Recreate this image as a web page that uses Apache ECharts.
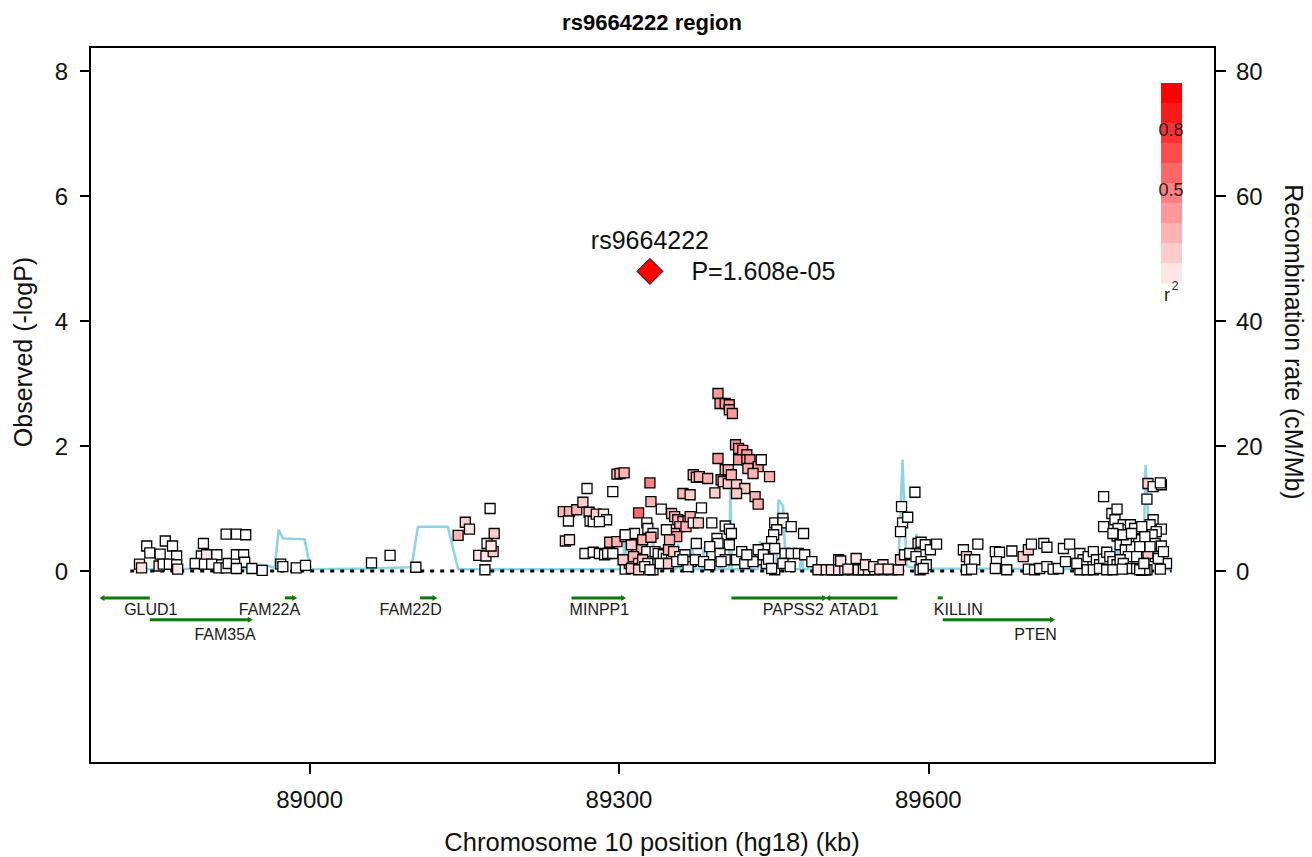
<!DOCTYPE html>
<html>
<head>
<meta charset="utf-8">
<title>rs9664222 region</title>
<script src="https://cdn.jsdelivr.net/npm/echarts@6.0.0/dist/echarts.min.js"></script>
<style>
  html, body { margin: 0; padding: 0; background: #fff; }
  #chart { width: 1312px; height: 857px; }
</style>
</head>
<body>
<div id="chart"></div>
<script>
// ---- data (positions in kb, chr10 hg18) ----
const xTicks = [89000, 89300, 89600];
const yTicks = [0, 2, 4, 6, 8];
const recTicks = [0, 20, 40, 60, 80];

const indexSnp = 'rs9664222';
const indexPos = 89330;
const indexP = 1.608e-5;

// SNPs left of the signal
const posA = [
  88835, 88837, 88842, 88845, 88860, 88867, 88855, 88871, 88854, 88858,
  88864, 88871, 88872, 88897, 88895, 88900, 88910, 88889, 88898, 88905,
  88912, 88919, 88921, 88929, 88936, 88929, 88937, 88929, 88919, 88929,
  88938, 88944, 88954, 88972, 88974, 88987, 88996, 89060, 89078, 89103,
  89144, 89151, 89155, 89164, 89171, 89172, 89170, 89175, 89179, 89178,
  89176
];
const logpA = [
  0.11, 0.05, 0.40, 0.29, 0.48, 0.40, 0.27, 0.24, 0.08, 0.11,
  0.11, 0.10, 0.03, 0.44, 0.24, 0.26, 0.26, 0.12, 0.11, 0.11,
  0.05, 0.05, 0.12, 0.26, 0.26, 0.11, 0.14, 0.04, 0.59, 0.59,
  0.58, 0.04, 0.01, 0.11, 0.07, 0.05, 0.09, 0.13, 0.25, 0.06,
  0.57, 0.78, 0.67, 0.25, 0.24, 0.44, 0.02, 1.00, 0.60, 0.31,
  0.40
];
const r2A = [
  0.05, 0.05, 0, 0, 0, 0, 0, 0, 0.05, 0,
  0, 0, 0.05, 0, 0, 0.05, 0, 0, 0, 0,
  0, 0, 0, 0, 0, 0, 0, 0, 0, 0,
  0, 0, 0, 0.05, 0, 0, 0, 0, 0, 0,
  0.2, 0.1, 0.05, 0.05, 0.05, 0, 0, 0, 0.1, 0.1,
  0.05
];

// SNPs around the peak (MINPP1 .. PAPSS2)
const posB = [
  89246, 89252, 89259, 89265, 89251, 89248, 89252, 89269, 89294, 89298,
  89301, 89305, 89271, 89272, 89275, 89278, 89285, 89288, 89281, 89267,
  89275, 89281, 89286, 89289, 89294, 89291, 89298, 89306, 89307, 89306,
  89310, 89315, 89319, 89317, 89322, 89323, 89314, 89319, 89327, 89330,
  89331, 89328, 89333, 89331, 89327, 89323, 89328, 89333, 89341, 89335,
  89338, 89343, 89346, 89351, 89351, 89354, 89357, 89362, 89367, 89359,
  89365, 89354, 89356, 89346, 89349, 89348, 89353, 89359, 89364, 89369,
  89372, 89377, 89375, 89370, 89367, 89380, 89362, 89369, 89372, 89375,
  89378, 89386, 89390, 89395, 89396, 89388, 89390, 89396, 89393, 89399,
  89403, 89406, 89401, 89406, 89409, 89403, 89407, 89409, 89407, 89398,
  89403, 89396, 89398, 89403, 89407, 89407, 89410, 89413, 89416, 89420,
  89424, 89416, 89424, 89427, 89435, 89438, 89425, 89430, 89414, 89422,
  89414, 89432, 89435, 89446, 89451, 89459, 89459, 89467, 89453, 89450,
  89448, 89479, 89443, 89435, 89451, 89437, 89443, 89451, 89461, 89467,
  89474, 89480, 89487, 89459, 89466, 89493, 89501, 89511, 89513, 89304,
  89312, 89319, 89325, 89330, 89340, 89348, 89356, 89362, 89374, 89382,
  89388, 89399, 89414, 89419, 89422, 89430, 89424, 89440, 89445, 89448,
  89312, 89306
];
const logpB = [
  0.95, 0.95, 0.98, 1.10, 0.80, 0.48, 0.50, 1.32, 1.27, 1.55,
  1.56, 1.57, 0.94, 0.80, 0.79, 0.91, 0.91, 0.82, 0.79, 0.28,
  0.30, 0.28, 0.26, 0.28, 0.28, 0.46, 0.47, 0.55, 0.18, 0.03,
  0.12, 0.60, 0.93, 0.34, 0.36, 0.50, 0.23, 0.12, 0.77, 1.41,
  1.11, 0.68, 0.60, 0.54, 0.31, 0.18, 0.12, 0.02, 0.99, 0.31,
  0.28, 0.26, 0.20, 0.18, 0.92, 0.87, 0.82, 0.79, 0.80, 0.71,
  0.71, 0.60, 0.55, 0.66, 0.50, 0.34, 0.31, 0.23, 0.26, 0.87,
  0.77, 0.77, 0.44, 0.15, 0.07, 1.01, 1.24, 1.22, 1.54, 1.50,
  1.51, 1.48, 0.77, 0.52, 0.44, 0.39, 0.23, 1.80, 1.25, 1.46,
  1.62, 1.62, 1.43, 1.40, 1.54, 0.72, 0.67, 0.60, 0.42, 0.28,
  0.18, 2.84, 2.68, 2.68, 2.66, 2.58, 2.52, 2.02, 1.96, 1.93,
  1.86, 1.78, 1.78, 1.78, 1.67, 1.78, 1.64, 1.56, 1.38, 1.32,
  1.24, 1.19, 1.07, 1.51, 0.77, 0.84, 0.77, 0.71, 0.66, 0.58,
  0.47, 0.60, 0.36, 0.34, 0.36, 0.18, 0.12, 0.02, 0.28, 0.28,
  0.28, 0.26, 0.15, 0.12, 0.07, 0.02, 0.02, 0.02, 0.18, 0.18,
  0.04, 0.02, 0.07, 0.02, 0.12, 0.12, 0.15, 0.18, 0.18, 0.15,
  0.10, 0.15, 0.18, 0.31, 0.12, 0.15, 0.26, 0.26, 0.19, 0.04,
  0.42, 0.58
];
const r2B = [
  0.2, 0.2, 0.2, 0.15, 0, 0.15, 0.05, 0, 0, 0.2,
  0.2, 0.2, 0.15, 0, 0, 0.15, 0.05, 0, 0, 0,
  0, 0, 0, 0, 0, 0.2, 0.2, 0, 0.2, 0,
  0.2, 0, 0.55, 0.25, 0.25, 0.2, 0.2, 0.15, 0, 0.4,
  0.25, 0, 0, 0.25, 0, 0.1, 0, 0, 0, 0,
  0, 0, 0, 0, 0.2, 0.25, 0.25, 0.25, 0.2, 0.2,
  0.2, 0.2, 0.35, 0, 0.2, 0.2, 0.15, 0, 0, 0.2,
  0, 0.15, 0, 0, 0, 0, 0.2, 0.1, 0.2, 0.2,
  0.2, 0.2, 0, 0, 0, 0, 0, 0.3, 0.1, 0.2,
  0.2, 0.2, 0.15, 0.15, 0.2, 0, 0, 0, 0, 0,
  0, 0.35, 0.35, 0.35, 0.35, 0.35, 0.35, 0.3, 0.3, 0.3,
  0.3, 0.3, 0.3, 0.3, 0.3, 0, 0.25, 0.25, 0.15, 0.15,
  0.15, 0.25, 0.25, 0.2, 0, 0, 0, 0, 0, 0,
  0, 0, 0, 0, 0, 0, 0, 0, 0, 0,
  0, 0, 0, 0, 0, 0.05, 0.05, 0.05, 0.05, 0.1,
  0.1, 0.1, 0, 0, 0, 0.1, 0, 0, 0, 0,
  0, 0, 0, 0, 0, 0, 0, 0, 0, 0,
  0.15, 0
];

// SNPs right of the signal (ATAD1 .. PTEN and beyond)
const posC = [
  89506, 89513, 89519, 89526, 89532, 89537, 89542, 89548, 89556, 89564,
  89571, 89515, 89530, 89539, 89547, 89556, 89522, 89553, 89561, 89574,
  89575, 89573, 89580, 89587, 89573, 89577, 89582, 89590, 89593, 89597,
  89602, 89608, 89588, 89593, 89598, 89592, 89595, 89634, 89637, 89640,
  89645, 89637, 89642, 89648, 89665, 89669, 89666, 89665, 89676, 89681,
  89692, 89697, 89700, 89712, 89715, 89697, 89703, 89708, 89715, 89721,
  89726, 89733, 89731, 89737, 89770, 89770, 89778, 89783, 89781, 89783,
  89789, 89792, 89796, 89800, 89799, 89804, 89786, 89791, 89797, 89794,
  89747, 89750, 89755, 89760, 89763, 89766, 89770, 89773, 89776, 89779,
  89783, 89786, 89789, 89796, 89802, 89807, 89812, 89747, 89754, 89760,
  89766, 89773, 89779, 89788, 89744, 89813, 89818, 89826, 89825, 89812,
  89818, 89815, 89826, 89821, 89817, 89820, 89810, 89826, 89820, 89831,
  89825, 89813, 89810, 89805, 89792, 89805, 89807, 89784, 89779, 89789,
  89797, 89802, 89809, 89815, 89823, 89828
];
const logpC = [
  0.02, 0.02, 0.02, 0.02, 0.02, 0.02, 0.02, 0.02, 0.02, 0.02,
  0.02, 0.16, 0.20, 0.10, 0.07, 0.10, 0.03, 0.03, 0.03, 1.03,
  0.77, 0.63, 0.86, 1.26, 0.18, 0.26, 0.28, 0.44, 0.46, 0.42,
  0.34, 0.43, 0.23, 0.15, 0.10, 0.02, 0.04, 0.34, 0.23, 0.18,
  0.18, 0.02, 0.03, 0.43, 0.31, 0.30, 0.15, 0.04, 0.02, 0.32,
  0.23, 0.34, 0.43, 0.44, 0.38, 0.03, 0.02, 0.04, 0.07, 0.03,
  0.04, 0.15, 0.36, 0.43, 1.19, 0.71, 0.92, 0.99, 0.82, 0.56,
  0.74, 0.66, 0.74, 0.68, 0.50, 0.50, 0.42, 0.34, 0.39, 0.23,
  0.28, 0.18, 0.23, 0.31, 0.18, 0.10, 0.19, 0.30, 0.23, 0.15,
  0.10, 0.18, 0.12, 0.04, 0.04, 0.01, 0.02, 0.02, 0.02, 0.02,
  0.04, 0.02, 0.02, 0.03, 0.12, 1.40, 1.35, 1.38, 1.41, 1.15,
  0.82, 0.74, 0.67, 0.63, 0.58, 0.44, 0.55, 0.40, 0.23, 0.12,
  0.03, 0.28, 0.02, 0.02, 0.50, 0.39, 0.71, 0.68, 0.60, 0.58,
  0.60, 0.23, 0.12, 0.39, 0.20, 0.31
];
const r2C = [
  0.05, 0.05, 0.05, 0.05, 0.05, 0.05, 0.05, 0.05, 0.05, 0.05,
  0.05, 0.05, 0.05, 0.05, 0.05, 0.05, 0.05, 0.05, 0.05, 0,
  0, 0, 0, 0, 0.1, 0, 0, 0.1, 0, 0,
  0, 0, 0, 0, 0, 0, 0, 0, 0.1, 0,
  0, 0, 0, 0, 0, 0, 0, 0, 0, 0,
  0.15, 0.1, 0, 0, 0, 0, 0, 0, 0, 0,
  0, 0, 0, 0, 0, 0, 0, 0, 0, 0,
  0, 0, 0, 0, 0, 0, 0, 0, 0, 0,
  0, 0, 0, 0, 0, 0, 0, 0, 0, 0,
  0, 0, 0, 0, 0, 0, 0, 0, 0, 0,
  0, 0, 0, 0, 0, 0.1, 0, 0, 0, 0,
  0, 0, 0, 0, 0, 0, 0, 0, 0, 0,
  0, 0.1, 0, 0, 0, 0, 0, 0, 0, 0,
  0, 0, 0, 0, 0, 0
];

// recombination rate (cM/Mb)
const recombPos = [
  88835, 88942, 88952, 88960, 88966, 88970, 88974, 88995, 89001, 89061,
  89097, 89099, 89105, 89134, 89144, 89160, 89304, 89305.6, 89307, 89321.7,
  89323.4, 89325, 89331.5, 89333, 89335, 89355.7, 89357.3, 89359.3, 89369.6, 89370.9,
  89372.5, 89380.6, 89381.9, 89383.2, 89397.1, 89398.4, 89399.7, 89406.8, 89408.1, 89409.7,
  89422, 89423, 89424, 89434.9, 89436.6, 89438.2, 89452.7, 89454.6, 89459.1, 89461.8,
  89475.4, 89477, 89478.6, 89483.4, 89485, 89486.7, 89500, 89570.7, 89575, 89578.9,
  89586.9, 89588.6, 89591.1, 89779.3, 89782.6, 89784.5, 89808.4, 89810.7, 89813.3, 89818.1,
  89826.2, 89830.4, 89835
];
const recombRate = [
  0.3, 0.4, 1.0, 0.8, 0.5, 6.6, 5.2, 5.1, 0.3, 0.4,
  0.6, 0.8, 7.1, 7.1, 0.3, 0.3, 0.3, 6.0, 0.5, 0.3,
  5.0, 0.4, 0.3, 5.5, 0.4, 0.3, 4.4, 0.3, 0.3, 4.6,
  0.3, 0.3, 3.8, 0.3, 0.3, 2.6, 0.3, 0.3, 13, 0.3,
  0.3, 2.0, 0.3, 0.3, 4.8, 0.3, 0.4, 11.4, 10.4, 0.3,
  0.3, 3.2, 0.3, 0.3, 3.2, 0.3, 0.2, 0.3, 17.8, 0.8,
  0.5, 6.0, 0.4, 0.3, 5.0, 0.3, 0.3, 17.0, 8.0, 5.0,
  4.0, 0.3, 0.2
];

// genes
const geneNames  = ['GLUD1', 'FAM35A', 'FAM22A', 'FAM22D', 'MINPP1', 'PAPSS2', 'ATAD1', 'KILLIN', 'PTEN'];
const geneStart  = [88799, 88845, 88976, 89107, 89254, 89409, 89503, 89609, 89614];
const geneEnd    = [88845, 88942, 88985, 89121, 89304, 89499, 89570, 89614, 89720];
const geneStrand = ['-', '+', '+', '+', '+', '+', '-', '', '+'];
const geneRow    = [0, 1, 0, 0, 0, 0, 0, 0, 1];
const geneLabelX = [88846, 88918, 88961, 89098, 89281, 89469, 89528, 89629, 89704];

const baselineRange = [88826, 89836];

// ---- styling ----
const FONT = "'Liberation Sans', Arial, Helvetica, sans-serif";
const bandColors = ['#FFE6E6', '#FFCCCC', '#FFB3B3', '#FF9999', '#FF8080',
                    '#FF6666', '#FF4D4D', '#FF3333', '#FF1A1A', '#FF0000'];
const rowLineY = [-0.43, -0.78];
const rowTextY = [-0.62, -1.02];

function r2Color(r2) {
  if (!(r2 > 0)) return '#FFFFFF';
  return bandColors[Math.min(9, Math.floor(r2 * 10 + 1e-9))];
}

function fmtP(p) {
  const parts = p.toExponential(3).split('e');
  const n = parseInt(parts[1], 10);
  return parts[0] + 'e' + (n < 0 ? '-' : '+') + String(Math.abs(n)).padStart(2, '0');
}

const snpPos = posA.concat(posB, posC);
const snpLogP = logpA.concat(logpB, logpC);
const snpR2 = r2A.concat(r2B, r2C);
if (snpPos.length !== snpLogP.length || snpPos.length !== snpR2.length) {
  console.error('snp arrays differ', snpPos.length, snpLogP.length, snpR2.length);
}
const snpData = snpPos.map((p, i) => [p, snpLogP[i], snpR2[i]]);
const recombData = recombPos.map((p, i) => [p, recombRate[i]]);
const indexLogP = -Math.log10(indexP);

function renderGene(params, api) {
  const i = api.value(0);
  const ly = rowLineY[geneRow[i]];
  const p0 = api.coord([geneStart[i], ly]);
  const p1 = api.coord([geneEnd[i], ly]);
  const t = api.coord([geneLabelX[i], rowTextY[geneRow[i]]]);
  const green = '#0b7a0b';
  const kids = [{
    type: 'line',
    shape: { x1: p0[0], y1: p0[1], x2: Math.max(p1[0], p0[0] + 4), y2: p1[1] },
    style: { stroke: green, lineWidth: 3 }
  }];
  if (geneStrand[i] === '+') {
    kids.push({ type: 'polygon', shape: { points: [[p1[0] + 3, p1[1]], [p1[0] - 2, p1[1] - 3], [p1[0] - 2, p1[1] + 3]] },
      style: { fill: green } });
  } else if (geneStrand[i] === '-') {
    kids.push({ type: 'polygon', shape: { points: [[p0[0] - 3, p0[1]], [p0[0] + 2, p0[1] - 3], [p0[0] + 2, p0[1] + 3]] },
      style: { fill: green } });
  }
  kids.push({
    type: 'text', x: t[0], y: t[1],
    style: { text: geneNames[i], fill: '#1a1a1a', font: '16px ' + FONT, align: 'center', verticalAlign: 'middle' }
  });
  return { type: 'group', children: kids };
}

const chart = echarts.init(document.getElementById('chart'), null, { renderer: 'svg' });

const axisLine = { show: true, onZero: false, lineStyle: { color: '#000', width: 2 } };
const tickStyle = { color: '#000', width: 2 };
const labelStyle = { fontSize: 24, color: '#111', fontFamily: FONT };

// legend key
const legend = [];
for (let k = 0; k < 10; k++) {
  legend.push({ type: 'rect', shape: { x: 1161, y: 83 + k * 20, width: 21, height: 20 },
    style: { fill: bandColors[9 - k] }, silent: true });
}
legend.push(
  { type: 'text', x: 1171, y: 130, style: { text: '0.8', font: '18px ' + FONT, fill: '#222', align: 'center', verticalAlign: 'middle' } },
  { type: 'text', x: 1171, y: 190, style: { text: '0.5', font: '18px ' + FONT, fill: '#222', align: 'center', verticalAlign: 'middle' } },
  { type: 'text', x: 1167, y: 295, style: { text: 'r', font: '18px ' + FONT, fill: '#222', align: 'center', verticalAlign: 'middle' } },
  { type: 'text', x: 1175, y: 286, style: { text: '2', font: '12px ' + FONT, fill: '#222', align: 'center', verticalAlign: 'middle' } }
);

const option = {
  animation: false,
  backgroundColor: '#fff',
  grid: { left: 90, right: 97, top: 47, bottom: 94, show: true, borderColor: '#000', borderWidth: 2 },
  xAxis: {
    type: 'value', min: 88787, max: 89878,
    axisLine: axisLine,
    axisTick: { show: true, customValues: xTicks, length: 11, lineStyle: tickStyle },
    axisLabel: Object.assign({ customValues: xTicks, margin: 24, formatter: v => String(v) }, labelStyle),
    splitLine: { show: false }
  },
  yAxis: [{
    type: 'value', min: -3.072, max: 8.384, position: 'left',
    axisLine: axisLine,
    axisTick: { show: true, customValues: yTicks, length: 10, lineStyle: tickStyle },
    axisLabel: Object.assign({ customValues: yTicks, margin: 22, formatter: v => String(v) }, labelStyle),
    splitLine: { show: false }
  }, {
    type: 'value', min: -30.72, max: 83.84, position: 'right',
    axisLine: axisLine,
    axisTick: { show: true, customValues: recTicks, length: 11, lineStyle: tickStyle },
    axisLabel: Object.assign({ customValues: recTicks, margin: 21, formatter: v => String(v) }, labelStyle),
    splitLine: { show: false }
  }],
  graphic: [
    { type: 'text', x: 652, y: 22, style: { text: 'rs9664222 region', font: 'bold 22px ' + FONT, fill: '#000', align: 'center', verticalAlign: 'middle' } },
    { type: 'text', x: 23, y: 352, rotation: Math.PI / 2, style: { text: 'Observed (-logP)', font: '25px ' + FONT, fill: '#111', align: 'center', verticalAlign: 'middle' } },
    { type: 'text', x: 1294, y: 342, rotation: -Math.PI / 2, style: { text: 'Recombination rate (cM/Mb)', font: '25px ' + FONT, fill: '#111', align: 'center', verticalAlign: 'middle' } },
    { type: 'text', x: 652, y: 842, style: { text: 'Chromosome 10 position (hg18) (kb)', font: '25.5px ' + FONT, fill: '#111', align: 'center', verticalAlign: 'middle' } }
  ].concat(legend),
  series: [{
    name: 'recombination', type: 'line', yAxisIndex: 1, z: 1,
    data: recombData, showSymbol: false, silent: true,
    lineStyle: { color: '#8dd3e8', width: 2.5 }
  }, {
    name: 'baseline', type: 'line', z: 2, silent: true, showSymbol: false,
    data: [[baselineRange[0], 0], [baselineRange[1], 0]],
    lineStyle: { color: '#000', width: 3, type: [4, 6] }
  }, {
    name: 'genes', type: 'custom', z: 2, silent: true,
    renderItem: renderGene,
    data: geneNames.map((n, i) => [i, geneStart[i], geneEnd[i]]),
    encode: { x: [1, 2] }
  }, {
    name: 'snps', type: 'scatter', z: 3,
    data: snpData, symbol: 'rect', symbolSize: 10,
    itemStyle: { color: p => r2Color(p.data[2]), borderColor: '#000', borderWidth: 1.3, opacity: 1 }
  }, {
    name: 'index', type: 'scatter', z: 4,
    data: [[indexPos, indexLogP]], symbol: 'diamond', symbolSize: 26,
    itemStyle: { color: '#FF0000', borderColor: '#000', borderWidth: 1, opacity: 1 },
    label: { show: true, position: 'right', distance: 28, formatter: () => 'P=' + fmtP(indexP),
      fontSize: 25, color: '#111', fontFamily: FONT }
  }, {
    name: 'indexName', type: 'scatter', z: 4, silent: true,
    data: [[indexPos, indexLogP]], symbol: 'rect', symbolSize: 26,
    itemStyle: { color: 'rgba(0,0,0,0)', opacity: 1 },
    label: { show: true, position: 'top', distance: 6, formatter: () => indexSnp,
      fontSize: 25, color: '#111', fontFamily: FONT }
  }]
};

chart.setOption(option);
</script>
</body>
</html>
